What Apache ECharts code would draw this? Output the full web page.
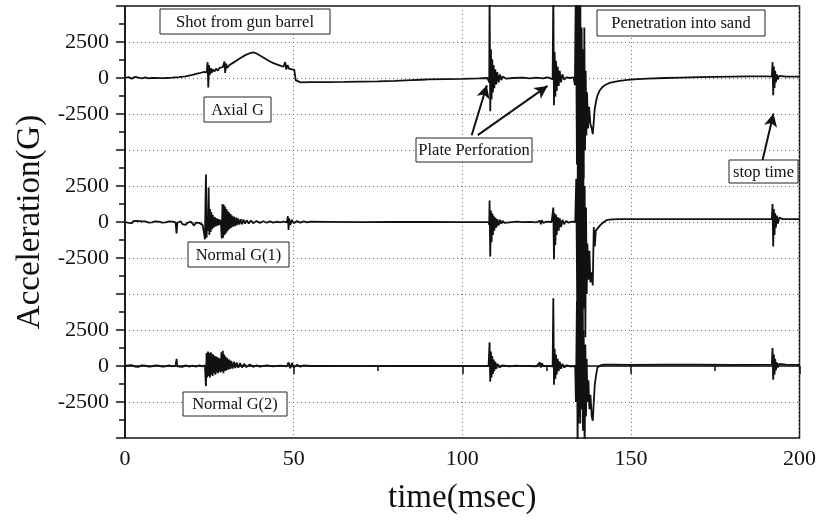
<!DOCTYPE html>
<html>
<head>
<meta charset="utf-8">
<script src="https://cdn.jsdelivr.net/npm/echarts@6/dist/echarts.min.js"></script>
<style>
  html, body { margin: 0; padding: 0; background: #fff; }
  #chart { width: 819px; height: 520px; }
</style>
</head>
<body>
<div id="chart"></div>
<script>
// time axis ticks (msec)
var xTicks = [0, 50, 100, 150, 200];
// labels used for each trace band (G)
var yTickLabels = ['-2500', '0', '2500'];

// [time(msec), acceleration(G)]
var axialG = [
  [0,0],[1,60],[2,-40],[3,80],[4,20],[5,-30],[6,40],[7,-20],[8,10],[9,0],[10,-10],[12,0],[14,20],[16,60],[18,120],[20,220],[22,330],[23.5,420],
  [24.2,380],[24.5,1100],[24.7,-650],[24.9,900],[25.1,200],[25.4,700],[25.7,350],[26,600],[26.5,450],[27,650],[27.5,500],[28,700],[28.5,600],[29,750],[29.5,1150],[29.7,350],[30,1000],[30.3,700],[31,900],[32,1050],[33,1200],[34,1350],[35,1500],[36,1620],[37,1720],[38,1780],[39,1700],[40,1560],[41,1420],[42,1280],[43,1150],[44,1030],[45,940],[46,860],[47,780],[47.5,1100],[47.8,600],[48.2,900],[48.6,650],[49,750],[49.5,600],[50.2,560],[50.6,-150],[51,-250],[52,-300],[55,-290],[60,-280],[65,-270],[70,-250],[75,-230],[80,-200],[85,-150],[88,-120],[90,-100],[95,-80],[100,-60],[105,-30],[107.5,0],
  [108,-300],[108.1,6000],[108.3,-2300],[108.5,2000],[108.7,-1500],[108.9,1300],[109.1,-1000],[109.3,900],[109.5,-700],[109.8,600],[110.1,-450],[110.4,400],[110.8,-300],[111.2,250],[111.6,-150],[112,100],[113,-50],[115,0],[118,20],[120,-30],[122,30],[124,-20],[125,40],[126,0],
  [126.8,-100],[127,6000],[127.2,-1900],[127.4,1800],[127.6,-1300],[127.8,1200],[128,-900],[128.3,800],[128.6,-550],[128.9,500],[129.3,-300],[129.7,250],[130.2,-100],[131,50],[132,0],[133,50],
  [133.4,-500],[133.7,7000],[134,-6000],[134.2,6000],[134.4,-9000],[134.6,5000],[134.8,-7000],[135,7000],[135.2,-8000],[135.4,3500],[135.6,-6000],[135.8,2000],[136,-7000],[136.2,3500],[136.4,-5000],[136.6,500],[136.8,-4000],[137,-1000],[137.3,-3500],[137.6,-2000],[138,-3200],[138.4,-3500],[138.7,-3900],[139,-3000],[139.3,-2100],[139.7,-1600],[140.1,-1200],[140.8,-850],[141.6,-620],[142.5,-470],[143.7,-340],[145,-270],[146.7,-200],[149,-130],[152,-80],[155,-40],[160,0],[165,30],[170,60],[175,80],[180,100],[185,110],[190,110],[191.8,100],
  [192,1100],[192.2,-1200],[192.4,800],[192.6,-700],[192.8,500],[193,-300],[193.3,250],[193.6,-100],[194,150],[196,100],[200,100]
];

var normalG1 = [
  [0,0],[0.5,80],[1,-60],[1.5,50],[2,-80],[2.5,60],[3,-40],[3.5,70],[4,-50],[5,40],[5.5,-60],[6,50],[7,-40],[7.5,60],[8,-30],[9,40],[9.5,-50],[10,30],[11,-40],[11.5,50],[12,-30],[13,40],[13.5,-40],[14,20],[15,-30],[15.3,-800],[15.5,-50],[16,-100],[16.5,50],[17,-150],[17.5,-50],[18,-200],[18.5,-60],[19,-120],[19.5,30],[20,-100],[20.5,-250],[21,-50],[21.5,-120],[22,-60],[22.5,50],[23,-200],[23.4,-700],[23.7,-1200],
  [24,3300],[24.2,-1100],[24.4,400],[24.6,-600],[24.8,2400],[25,-900],[25.2,900],[25.4,-700],[25.6,700],[25.8,-500],[26,500],[26.3,-400],[26.6,350],[26.9,-300],[27.2,250],[27.5,-250],[27.8,200],[28.1,-200],[28.4,150],[28.7,-1150],[28.9,1250],[29.1,-1100],[29.3,1200],[29.5,-900],[29.7,1050],[29.9,-800],[30.1,900],[30.3,-650],[30.5,750],[30.7,-550],[30.9,650],[31.1,-450],[31.3,550],[31.5,-400],[31.7,450],[32,-320],[32.3,380],[32.6,-280],[32.9,300],[33.2,-220],[33.5,250],[33.9,-180],[34.3,200],[34.7,-150],[35.1,160],[35.6,-120],[36.1,120],[36.7,-100],[37.3,100],[38,-80],[39,70],[40,-60],[41,50],[42,-50],[43,40],[44,-40],[45,30],[46,-30],[47,30],[48,-20],[48.3,400],[48.5,-550],[48.7,250],[49,-200],[49.5,150],[50,-80],[51,60],[52,-40],[53,40],[54,-30],[55,20],[60,10],[70,-10],[80,10],[90,0],[100,-10],[107.8,0],
  [108,-200],[108.1,1500],[108.3,-2400],[108.5,800],[108.7,-1400],[108.9,600],[109.1,-900],[109.3,450],[109.5,-600],[109.8,300],[110.1,-400],[110.4,200],[110.8,-250],[111.2,150],[111.6,-120],[112,80],[112.5,-60],[113,40],[114,-20],[116,20],[118,-10],[120,10],[122,-20],[123,80],[123.3,-150],[123.6,120],[124,-60],[125,20],[126.5,0],
  [126.8,-100],[127,1000],[127.2,-2600],[127.4,600],[127.6,-1600],[127.8,500],[128,-900],[128.3,350],[128.6,-600],[128.9,250],[129.3,-350],[129.7,150],[130.2,-150],[130.8,80],[131.5,-50],[132.5,20],[133.5,0],
  [133.8,3000],[134.1,-6000],[134.3,7000],[134.5,-14000],[134.7,6000],[134.9,-9000],[135.1,8000],[135.3,-7000],[135.5,5000],[135.7,-10000],[135.9,4000],[136.1,-6000],[136.3,2500],[136.5,-8000],[136.7,1000],[136.9,-5000],[137.1,-1500],[137.4,-4000],[137.7,-2000],[138,-4200],[138.4,-3500],[138.7,-4400],[139,-350],[139.3,-1700],[139.6,-600],[140,-550],[141,-200],[142,0],[143,150],[144.5,180],[146.7,200],[150,200],[160,200],[170,200],[180,200],[191.8,200],
  [192,1250],[192.2,-1700],[192.4,900],[192.6,-900],[192.8,600],[193,-400],[193.3,450],[193.6,-100],[194,300],[195,200],[200,200]
];

var normalG2 = [
  [0,0],[0.5,-60],[1,50],[1.5,-40],[2,60],[3,-50],[3.5,40],[4,-60],[5,50],[5.5,-40],[6,30],[7,-50],[7.5,40],[8,-30],[9,50],[9.5,-40],[10,30],[11,-40],[11.5,50],[12,-30],[13,40],[14,-30],[15,20],[15.3,500],[15.5,-30],[16,40],[17,-60],[18,50],[19,-40],[20,30],[21,-50],[22,40],[23,-30],[23.7,50],
  [24,-1400],[24.2,900],[24.4,-800],[24.6,1000],[24.8,-700],[25,900],[25.2,-800],[25.4,950],[25.6,-600],[25.8,850],[26,-700],[26.2,800],[26.4,-500],[26.6,700],[26.8,-600],[27,650],[27.2,-450],[27.4,600],[27.6,-500],[27.8,550],[28,-400],[28.2,500],[28.4,-450],[28.6,950],[28.8,-350],[29,1050],[29.2,-500],[29.4,800],[29.6,-350],[29.8,650],[30,-300],[30.3,550],[30.6,-250],[30.9,450],[31.2,-200],[31.5,350],[31.9,-180],[32.3,300],[32.7,-150],[33.1,250],[33.6,-120],[34.1,200],[34.7,-100],[35.3,150],[36,-80],[37,100],[38,-60],[39,50],[40,-40],[42,40],[44,-30],[46,30],[48,-20],[48.5,250],[49,-150],[49.5,200],[50,-100],[51,80],[52,-50],[53,40],[55,0],[60,10],[70,-10],[80,0],[90,10],[100,-10],[107.8,0],
  [108,-100],[108.1,1650],[108.3,-1100],[108.5,1000],[108.7,-800],[108.9,700],[109.1,-550],[109.3,450],[109.5,-350],[109.8,300],[110.1,-200],[110.5,150],[111,-100],[112,50],[114,-30],[116,20],[118,-10],[120,0],[122,-20],[123,250],[123.3,-100],[123.6,200],[124,0],[126,0],
  [126.8,-50],[127,4700],[127.2,-1300],[127.4,1200],[127.6,-900],[127.8,800],[128,-600],[128.3,500],[128.6,-350],[128.9,300],[129.3,-200],[129.7,150],[130.2,-100],[131,50],[132,-20],[133.5,0],
  [133.7,-2500],[134,4500],[134.2,-6000],[134.4,6000],[134.6,-3500],[134.8,5000],[135,-4000],[135.2,6500],[135.4,-3000],[135.6,3500],[135.8,-4500],[136,2500],[136.3,-6000],[136.5,1500],[136.7,-3500],[136.9,500],[137.1,-2500],[137.4,-1000],[137.7,-3000],[138,-2000],[138.4,-3500],[138.7,-3800],[139,-2500],[139.3,-1300],[139.7,-600],[140.1,-100],[141,50],[142,100],[145,100],[150,80],[160,100],[170,100],[180,80],[191.8,100],
  [192,1250],[192.2,-950],[192.4,800],[192.6,-600],[192.8,500],[193,-300],[193.3,250],[193.6,-100],[194,150],[196,100],[200,80]
];

// each trace is drawn in its own band, 10000 G apart
var bandOffset = [20000, 10000, 0];

function shift(arr, off) {
  return arr.map(function (p) { return [p[0], p[1] + off]; });
}

function yLabel(v) {
  var r = ((v % 10000) + 10000) % 10000;
  if (r === 7500) return yTickLabels[0];
  if (r === 0) return yTickLabels[1];
  if (r === 2500) return yTickLabels[2];
  return '';
}

var serif = '"Liberation Serif", "DejaVu Serif", serif';

function box(x, y, w, h, txt) {
  return {
    type: 'group',
    children: [
      { type: 'rect', shape: { x: x, y: y, width: w, height: h },
        style: { fill: '#fff', stroke: '#222', lineWidth: 1 }, z: 100 },
      { type: 'text', x: x + w / 2, y: y + h / 2 + 1, z: 101,
        style: { text: txt, fill: '#111', font: '16.5px ' + serif,
                 textAlign: 'center', textVerticalAlign: 'middle' } }
    ]
  };
}

var myChart = echarts.init(document.getElementById('chart'));

var lineStyle = { color: '#111', width: 1.8 };

myChart.setOption({
  animation: false,
  backgroundColor: '#fff',
  grid: {
    left: 125, right: 19, top: 6, bottom: 76,
    show: true, borderColor: '#111', borderWidth: 1.5, backgroundColor: 'transparent'
  },
  xAxis: {
    type: 'value',
    min: xTicks[0], max: xTicks[xTicks.length - 1], interval: 50,
    name: 'time(msec)', nameLocation: 'middle', nameGap: 44,
    nameTextStyle: { fontFamily: serif, fontSize: 33, color: '#111' },
    axisLine: { show: true, lineStyle: { color: '#111', width: 1.5 } },
    axisTick: { show: true, length: 8, lineStyle: { color: '#111', width: 1.5 } },
    minorTick: { show: true, splitNumber: 2, length: 5, lineStyle: { color: '#111', width: 1.5 } },
    axisLabel: { fontFamily: serif, fontSize: 22, color: '#111', margin: 10 },
    splitLine: { show: true, lineStyle: { color: '#666', type: [1, 3], width: 1 } }
  },
  yAxis: {
    type: 'value',
    min: -5000, max: 25000, interval: 2500,
    name: 'Acceleration(G)', nameLocation: 'middle', nameGap: 76,
    nameTextStyle: { fontFamily: serif, fontSize: 33, color: '#111' },
    axisLine: { show: true, lineStyle: { color: '#111', width: 1.5 } },
    axisTick: { show: true, length: 9, lineStyle: { color: '#111', width: 1.5 } },
    minorTick: { show: true, splitNumber: 2, length: 6, lineStyle: { color: '#111', width: 1.5 } },
    axisLabel: { fontFamily: serif, fontSize: 22, color: '#111', margin: 16, formatter: yLabel },
    splitLine: { show: true, lineStyle: { color: '#666', type: [1, 3], width: 1 } }
  },
  series: [
    {
      name: 'Axial G', type: 'line', showSymbol: false, clip: true, silent: true,
      lineStyle: lineStyle, data: shift(axialG, bandOffset[0]),
      markLine: {
        silent: true, symbol: ['none', 'arrow'], symbolSize: [10, 13],
        label: { show: false },
        lineStyle: { color: '#111', type: 'solid', width: 2 },
        data: [
          [{ coord: [102.8, 16030] }, { coord: [107.3, 19500] }],
          [{ coord: [104.6, 16030] }, { coord: [125.3, 19450] }],
          [{ coord: [189.0, 14250] }, { coord: [192.3, 17530] }]
        ]
      }
    },
    {
      name: 'Normal G(1)', type: 'line', showSymbol: false, clip: true, silent: true,
      lineStyle: lineStyle, data: shift(normalG1, bandOffset[1])
    },
    {
      name: 'Normal G(2)', type: 'line', showSymbol: false, clip: true, silent: true,
      lineStyle: lineStyle, data: shift(normalG2, bandOffset[2])
    }
  ],
  graphic: [
    box(160, 9, 170, 25, 'Shot from gun barrel'),
    box(597, 10, 168, 26, 'Penetration into sand'),
    box(204, 97, 67, 25, 'Axial G'),
    box(416, 138, 116, 24, 'Plate Perforation'),
    box(729, 160, 69, 23, 'stop time'),
    box(188, 242, 101, 25, 'Normal G(1)'),
    box(183, 392, 104, 24, 'Normal G(2)')
  ]
});
</script>
</body>
</html>
